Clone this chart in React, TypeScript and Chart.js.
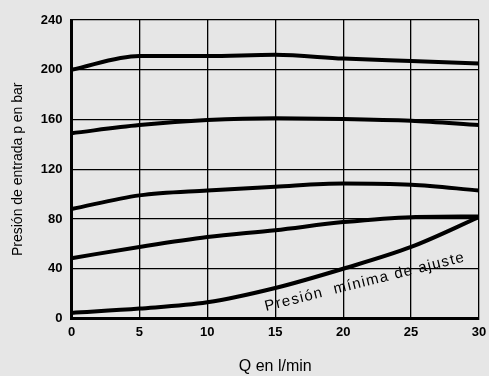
import React, { useEffect, useRef } from "react";
import { Chart, registerables } from "chart.js";
Chart.register(...registerables);

const qValues = [0, 5, 10, 15, 20, 25, 30];
const curve1 = [200, 211, 211, 212, 209, 207, 205];
const curve2 = [149, 155.5, 159.5, 161, 160.5, 159, 155.5];
const curve3 = [88, 99, 103, 106, 108.5, 107.5, 103];
const curve4 = [48.5, 57.5, 65.5, 71, 77.5, 81.5, 82];
const curveMin = [4.5, 8, 13, 24.5, 40, 57.5, 81.5];
const xTicks = [0, 5, 10, 15, 20, 25, 30];
const yTicks = [0, 40, 80, 120, 160, 200, 240];
const annotationText = "Presión  mínima de ajuste";
const yTitle = "Presión de entrada p en bar";
const xTitle = "Q en l/min";

const labelPlugin = {
  id: "curveLabel",
  afterDatasetsDraw(chart: any) {
    const { ctx, scales } = chart;
    const x = scales.x.getPixelForValue(21.6);
    const y = scales.y.getPixelForValue(29.3);
    ctx.save();
    ctx.translate(x, y);
    ctx.rotate((-14 * Math.PI) / 180);
    ctx.font = "15px 'Liberation Sans', Arial, sans-serif";
    try {
      (ctx as any).letterSpacing = "1.3px";
    } catch (e) {}
    ctx.fillStyle = "#000";
    ctx.textAlign = "center";
    ctx.textBaseline = "middle";
    ctx.fillText(annotationText, 0, 0);
    ctx.restore();
  },
};

export default function App() {
  const ref = useRef<HTMLCanvasElement>(null);
  useEffect(() => {
    document.body.style.margin = "0";
    const mk = (data: number[]) => ({
      data: qValues.map((q, i) => ({ x: q, y: data[i] })),
      borderColor: "#000",
      borderWidth: 4,
      pointRadius: 0,
      tension: 0.4,
      cubicInterpolationMode: "monotone" as const,
      fill: false,
    });
    const chart = new Chart(ref.current!, {
      type: "line",
      data: {
        datasets: [mk(curve1), mk(curve2), mk(curve3), mk(curve4), mk(curveMin)],
      },
      options: {
        animation: false,
        responsive: false,
        maintainAspectRatio: false,
        layout: { padding: { top: 20, right: 10, left: 0, bottom: 0 } },
        plugins: { legend: { display: false }, tooltip: { enabled: false } },
        scales: {
          x: {
            type: "linear",
            min: 0,
            max: 30,
            afterBuildTicks: (s: any) => {
              s.ticks = xTicks.map((v) => ({ value: v }));
            },
            afterFit: (s: any) => {
              s.height = 57.5;
              s.paddingLeft = 0;
              s.paddingRight = 0;
            },
            grid: { color: "#000", lineWidth: 1.3, drawTicks: false },
            border: { color: "#000", width: 3 },
            ticks: {
              color: "#000",
              padding: 6,
              font: { family: "'Liberation Sans', Arial, sans-serif", size: 13, weight: "bold" },
            },
            title: {
              display: true,
              text: xTitle,
              color: "#000",
              padding: { top: 10, bottom: 0 },
              font: { family: "'Liberation Sans', Arial, sans-serif", size: 16 },
            },
          },
          y: {
            min: 0,
            max: 240,
            afterBuildTicks: (s: any) => {
              s.ticks = yTicks.map((v) => ({ value: v }));
            },
            afterFit: (s: any) => {
              s.width = 71.5;
              s.paddingTop = 0;
              s.paddingBottom = 0;
            },
            grid: { color: "#000", lineWidth: 1.3, drawTicks: false },
            border: { color: "#000", width: 3 },
            ticks: {
              color: "#000",
              padding: 9,
              font: { family: "'Liberation Sans', Arial, sans-serif", size: 13, weight: "bold" },
            },
            title: {
              display: true,
              text: yTitle,
              color: "#000",
              padding: { top: 10, bottom: 0 },
              font: { family: "'Liberation Sans', Arial, sans-serif", size: 14 },
            },
          },
        },
      },
      plugins: [labelPlugin],
    });
    return () => chart.destroy();
  }, []);
  return (
    <div style={{ width: 489, height: 376, background: "#e6e6e6" }}>
      <canvas ref={ref} width={489} height={376} style={{ display: "block" }} />
    </div>
  );
}
